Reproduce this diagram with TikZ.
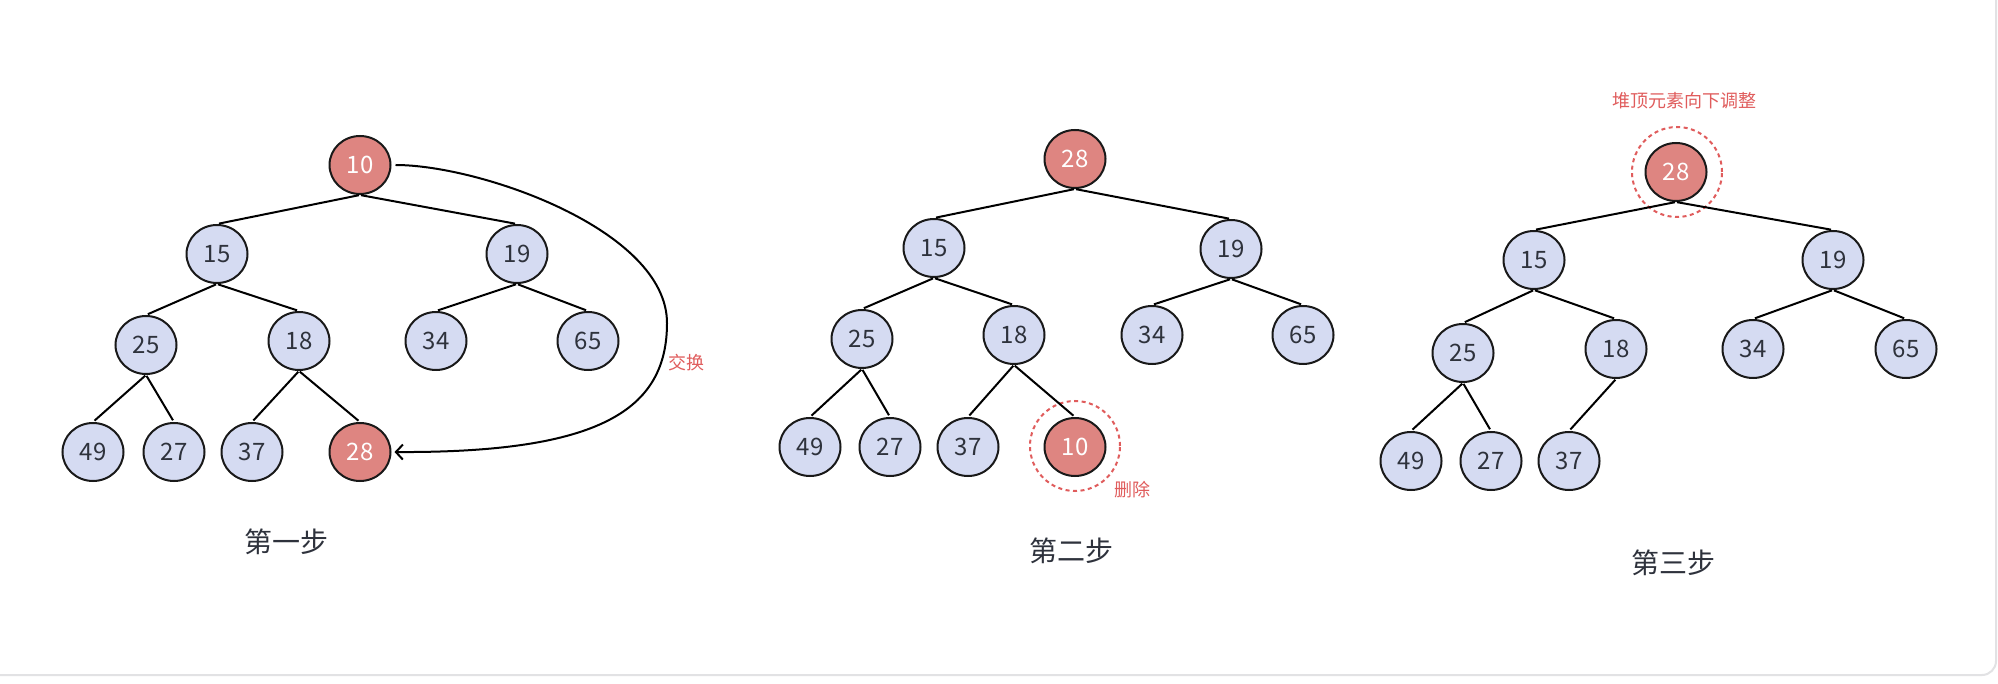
\documentclass[tikz,border=0pt]{standalone}
\usepackage{fontspec}
\setmainfont{Noto Sans CJK SC}
\usetikzlibrary{shapes.geometric,arrows.meta}
\definecolor{nodeblue}{HTML}{D5DBF2}
\definecolor{nodered}{HTML}{DE8581}
\definecolor{txt}{HTML}{2E323C}
\definecolor{lbl}{HTML}{E05C5C}
\definecolor{framegray}{HTML}{E2E2E4}
\tikzset{
  hn/.style={ellipse, draw=black!90, line width=2pt, fill=nodeblue, minimum width=61pt, minimum height=58pt, inner sep=0pt, text=txt, font=\fontsize{24pt}{28pt}\selectfont},
  rn/.style={hn, fill=nodered, text=white},
  lk/.style={line width=2pt, draw=black, shorten <=1pt, shorten >=2pt},
  steplbl/.style={text=txt, font=\fontsize{28pt}{32pt}\selectfont, inner sep=0pt},
  redlbl/.style={text=lbl, font=\fontsize{18pt}{22pt}\selectfont, inner sep=0pt},
  ring/.style={circle, draw=lbl, line width=2pt, dash pattern=on 4pt off 3.5pt, minimum size=90pt, inner sep=0pt}
}
\begin{document}
\begin{tikzpicture}[x=1pt,y=-1pt]
\useasboundingbox (0,0) rectangle (1998,684);
\fill[white] (0,0) rectangle (1998,684);
\draw[framegray, line width=2pt, rounded corners=14pt] (-20,-20) rectangle (1996,675);

% ---------- Tree 1 ----------
\node[rn] (a10) at (360,165) {10};
\node[hn] (a15) at (217,254) {15};
\node[hn] (a19) at (517,254) {19};
\node[hn] (a25) at (146,345) {25};
\node[hn] (a18) at (299,341) {18};
\node[hn] (a34) at (436,341) {34};
\node[hn] (a65) at (588,341) {65};
\node[hn] (a49) at (93,452) {49};
\node[hn] (a27) at (174,452) {27};
\node[hn] (a37) at (252,452) {37};
\node[rn] (a28) at (360,452) {28};
\draw[lk] (a10.south) -- (a15.north);
\draw[lk] (a10.south) -- (a19.north);
\draw[lk] (a15.south) -- (a25.north);
\draw[lk] (a15.south) -- (a18.north);
\draw[lk] (a19.south) -- (a34.north);
\draw[lk] (a19.south) -- (a65.north);
\draw[lk] (a25.south) -- (a49.north);
\draw[lk] (a25.south) -- (a27.north);
\draw[lk] (a18.south) -- (a37.north);
\draw[lk] (a18.south) -- (a28.north);
\coordinate (bend) at (667,323);
\draw[line width=2pt, -{Straight Barb[length=7pt,width=15pt]}, shorten <=4pt, shorten >=3pt]
  (a10.east) .. controls (480,165) and (667,230) .. (bend)
  .. controls (667,410) and (600,453) .. (a28.east);
\node[redlbl] (swap) at (686,363) {交换};
\node[steplbl] (s1) at (286,542) {第一步};

% ---------- Tree 2 ----------
\node[rn] (b28) at (1075,159) {28};
\node[hn] (b15) at (934,248) {15};
\node[hn] (b19) at (1231,249) {19};
\node[hn] (b25) at (862,339) {25};
\node[hn] (b18) at (1014,335) {18};
\node[hn] (b34) at (1152,335) {34};
\node[hn] (b65) at (1303,335) {65};
\node[hn] (b49) at (810,447) {49};
\node[hn] (b27) at (890,447) {27};
\node[hn] (b37) at (968,447) {37};
\node[rn] (b10) at (1075,447) {10};
\node[ring] (bring) at (1075,446) {};
\draw[lk] (b28.south) -- (b15.north);
\draw[lk] (b28.south) -- (b19.north);
\draw[lk] (b15.south) -- (b25.north);
\draw[lk] (b15.south) -- (b18.north);
\draw[lk] (b19.south) -- (b34.north);
\draw[lk] (b19.south) -- (b65.north);
\draw[lk] (b25.south) -- (b49.north);
\draw[lk] (b25.south) -- (b27.north);
\draw[lk] (b18.south) -- (b37.north);
\draw[lk] (b18.south) -- (b10.north);
\node[redlbl] (del) at (1132,490) {删除};
\node[steplbl] (s2) at (1071,551) {第二步};

% ---------- Tree 3 ----------
\node[rn] (c28) at (1676,172) {28};
\node[ring] (cring) at (1677,172) {};
\node[hn] (c15) at (1534,260) {15};
\node[hn] (c19) at (1833,260) {19};
\node[hn] (c25) at (1463,353) {25};
\node[hn] (c18) at (1616,349) {18};
\node[hn] (c34) at (1753,349) {34};
\node[hn] (c65) at (1906,349) {65};
\node[hn] (c49) at (1411,461) {49};
\node[hn] (c27) at (1491,461) {27};
\node[hn] (c37) at (1569,461) {37};
\draw[lk] (c28.south) -- (c15.north);
\draw[lk] (c28.south) -- (c19.north);
\draw[lk] (c15.south) -- (c25.north);
\draw[lk] (c15.south) -- (c18.north);
\draw[lk] (c19.south) -- (c34.north);
\draw[lk] (c19.south) -- (c65.north);
\draw[lk] (c25.south) -- (c49.north);
\draw[lk] (c25.south) -- (c27.north);
\draw[lk] (c18.south) -- (c37.north);
\node[redlbl] (adj) at (1684,101) {堆顶元素向下调整};
\node[steplbl] (s3) at (1673,563) {第三步};
\end{tikzpicture}
\end{document}
